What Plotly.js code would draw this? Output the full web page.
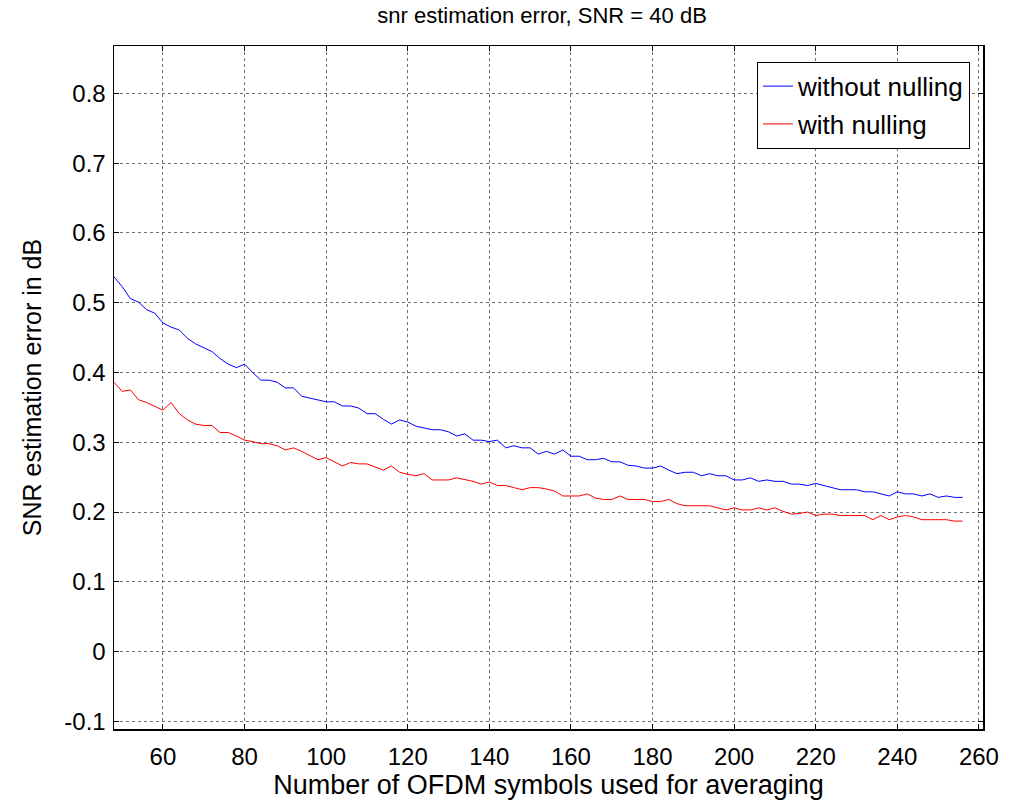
<!DOCTYPE html>
<html>
<head>
<meta charset="utf-8">
<script src="https://cdn.plot.ly/plotly-3.0.1.min.js"></script>
<style>html,body{margin:0;padding:0;background:#fff;}#chart{width:1017px;height:803px;}</style>
</head>
<body>
<div id="chart"></div>
<script>
const symbols = [48,50,52,54,56,58,60,62,64,66,68,70,72,74,76,78,80,82,84,86,88,90,92,94,96,98,100,102,104,106,108,110,112,114,116,118,120,122,124,126,128,130,132,134,136,138,140,142,144,146,148,150,152,154,156,158,160,162,164,166,168,170,172,174,176,178,180,182,184,186,188,190,192,194,196,198,200,202,204,206,208,210,212,214,216,218,220,222,224,226,228,230,232,234,236,238,240,242,244,246,248,250,252,254,256];

const withoutNulling = [0.537,0.523,0.506,0.501,0.490,0.485,0.471,0.465,0.461,0.449,0.441,0.436,0.430,0.420,0.412,0.407,0.412,0.400,0.389,0.389,0.386,0.378,0.378,0.366,0.363,0.360,0.358,0.358,0.352,0.352,0.349,0.341,0.341,0.333,0.326,0.332,0.329,0.323,0.321,0.318,0.318,0.315,0.309,0.312,0.303,0.303,0.301,0.303,0.292,0.295,0.292,0.292,0.283,0.287,0.283,0.289,0.280,0.280,0.275,0.275,0.277,0.272,0.272,0.267,0.266,0.263,0.263,0.266,0.260,0.255,0.257,0.257,0.252,0.255,0.252,0.252,0.246,0.246,0.249,0.244,0.246,0.244,0.244,0.240,0.240,0.238,0.241,0.238,0.234,0.232,0.232,0.232,0.229,0.229,0.226,0.223,0.229,0.226,0.226,0.223,0.226,0.221,0.223,0.221,0.221];

const withNulling = [0.386,0.373,0.375,0.361,0.357,0.352,0.346,0.357,0.341,0.332,0.326,0.324,0.324,0.314,0.314,0.309,0.303,0.301,0.298,0.298,0.295,0.289,0.292,0.287,0.281,0.275,0.278,0.272,0.266,0.271,0.269,0.269,0.264,0.260,0.266,0.257,0.254,0.252,0.255,0.246,0.246,0.246,0.249,0.247,0.244,0.240,0.243,0.238,0.238,0.235,0.232,0.235,0.235,0.233,0.230,0.223,0.223,0.223,0.226,0.220,0.218,0.218,0.223,0.218,0.218,0.218,0.215,0.215,0.218,0.212,0.209,0.209,0.209,0.209,0.206,0.203,0.206,0.203,0.203,0.206,0.203,0.206,0.201,0.197,0.198,0.200,0.195,0.197,0.197,0.195,0.195,0.195,0.195,0.189,0.195,0.189,0.193,0.195,0.193,0.189,0.189,0.189,0.189,0.187,0.187];

const xTicks = [60,80,100,120,140,160,180,200,220,240,260];
const yTicks = [-0.1,0,0.1,0.2,0.3,0.4,0.5,0.6,0.7,0.8];
const yTickText = ['-0.1','0','0.1','0.2','0.3','0.4','0.5','0.6','0.7','0.8'];

const font = 'Liberation Sans, Arial, sans-serif';

const traces = [
  {x: symbols, y: withoutNulling, type: 'scatter', mode: 'lines', name: 'without nulling',
   legendgroup: 'a', line: {color: '#0000ff', width: 1}},
  {x: symbols, y: withNulling, type: 'scatter', mode: 'lines', name: 'with nulling',
   legendgroup: 'b', line: {color: '#ff0000', width: 1}}
];

const axisCommon = {
  showline: true, linecolor: '#000', linewidth: 1.5, mirror: 'ticks',
  ticks: 'inside', ticklen: 5, tickcolor: '#000', tickwidth: 1,
  showgrid: true, gridcolor: '#6f6f6f', gridwidth: 1, griddash: 'dot',
  zeroline: false, tickfont: {family: font, size: 24, color: '#000'}
};

const layout = {
  width: 1017, height: 803,
  paper_bgcolor: '#fff', plot_bgcolor: '#fff',
  margin: {l: 114, r: 34, t: 46, b: 74},
  title: {text: 'snr estimation error, SNR = 40 dB', font: {family: font, size: 22, color: '#000'},
          x: 0.533, xanchor: 'center', y: 0.981, yanchor: 'middle'},
  xaxis: Object.assign({}, axisCommon, {
    range: [48, 261], tickvals: xTicks, ticktext: xTicks.map(String), ticklabelstandoff: 6,
    title: {text: 'Number of OFDM symbols used for averaging', font: {family: font, size: 27, color: '#000'}, standoff: 3}
  }),
  yaxis: Object.assign({}, axisCommon, {
    range: [-0.111, 0.868], tickvals: yTicks, ticktext: yTickText, ticklabelstandoff: 2,
    title: {text: 'SNR estimation error in dB', font: {family: font, size: 25, color: '#000'}, standoff: 15}
  }),
  showlegend: true,
  legend: {x: 0.985, y: 0.977, xanchor: 'right', yanchor: 'top', traceorder: 'grouped', tracegroupgap: 1,
           bgcolor: '#fff', bordercolor: '#000', borderwidth: 1,
           font: {family: font, size: 26, color: '#000'}}
};

Plotly.newPlot('chart', traces, layout, {staticPlot: true, displayModeBar: false});
</script>
</body>
</html>
